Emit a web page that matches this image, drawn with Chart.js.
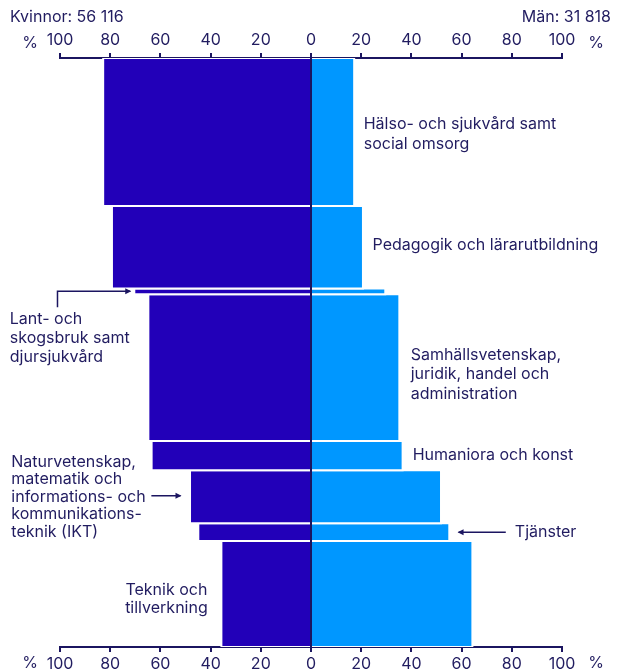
<!doctype html>
<html>

<head>
	<meta charset="utf-8">
	<title>Studenter per utbildningsområde</title>
	<script src="https://cdn.jsdelivr.net/npm/chart.js@4.4.1/dist/chart.umd.min.js"></script>
	<style>
		body {
			margin: 0;
			background: #fff;
			font-family: Inter, sans-serif;
		}

		#holder {
			width: 617px;
			height: 671px;
			position: relative;
		}
	</style>
</head>

<body>
	<div id="holder">
		<canvas id="chart-area"></canvas>
	</div>
	<script>
		// utbildningsområden, uppifrån och ned
		var fields = [
			'Hälso- och sjukvård samt social omsorg',
			'Pedagogik och lärarutbildning',
			'Lant- och skogsbruk samt djursjukvård',
			'Samhällsvetenskap, juridik, handel och administration',
			'Humaniora och konst',
			'Naturvetenskap, matematik och informations- och kommunikationsteknik (IKT)',
			'Tjänster',
			'Teknik och tillverkning'
		];
		// antal studenter per område (ger radens tjocklek)
		var students = [22100, 12300, 870, 21900, 4360, 7940, 2630, 15830];
		// andel kvinnor / män i procent
		var womenPct = [82.8, 79.3, 70.4, 64.8, 63.5, 48.2, 44.9, 35.7];
		var menPct = [17.2, 20.7, 29.6, 35.2, 36.5, 51.8, 55.1, 64.3];
		var tickValues = [-100, -80, -60, -40, -20, 0, 20, 40, 60, 80, 100];
		var totalWomen = '56 116';
		var totalMen = '31 818';

		var navy = '#1b1560';
		var textColor = '#211c60';
		var womenColor = '#2200b8';
		var menColor = '#0097ff';
		var font = { family: 'Inter', size: 16 };

		var total = students.reduce(function (a, b) { return a + b; }, 0);
		var starts = [];
		var acc = 0;
		students.forEach(function (n) {
			starts.push(acc);
			acc += n;
		});

		function rect(x0, x1, y0, y1, color) {
			return {
				data: [
					{ x: x0, y: y0 }, { x: x1, y: y0 }, { x: x1, y: y1 }, { x: x0, y: y1 }, { x: x0, y: y0 }
				],
				showLine: true,
				fill: 'shape',
				backgroundColor: color,
				borderColor: '#ffffff',
				borderWidth: 2,
				pointRadius: 0,
				tension: 0
			};
		}

		var datasets = [{
			// mittlinjen, ritas överst
			data: [{ x: 0, y: 0 }, { x: 0, y: total }],
			showLine: true,
			borderColor: navy,
			borderWidth: 2,
			pointRadius: 0
		}];
		fields.forEach(function (f, i) {
			var y0 = starts[i], y1 = starts[i] + students[i];
			datasets.push(rect(-womenPct[i], 0, y0, y1, womenColor));
			datasets.push(rect(0, menPct[i], y0, y1, menColor));
		});

		// textetiketter och pilar (x i procentenheter, dy i pixlar från radens mitt)
		var notes = [
			{ band: 0, x: 21, dy: 2, lh: 20, lines: ['Hälso- och sjukvård samt', 'social omsorg'] },
			{ band: 1, x: 24.5, dy: -2, lh: 19, lines: ['Pedagogik och lärarutbildning'] },
			{ band: 2, x: -120, dy: 47, lh: 19, lines: ['Lant- och', 'skogsbruk samt', 'djursjukvård'] },
			{ band: 3, x: 39.7, dy: 7, lh: 19.5, lines: ['Samhällsvetenskap,', 'juridik, handel och', 'administration'] },
			{ band: 4, x: 40.5, dy: 0, lh: 19, lines: ['Humaniora och konst'] },
			{ band: 5, x: -119.4, dy: 0, lh: 17.5, lines: ['Naturvetenskap,', 'matematik och', 'informations- och', 'kommunikations-', 'teknik (IKT)'] },
			{ band: 6, x: 81.2, dy: 0, lh: 19, lines: ['Tjänster'] },
			{ band: 7, x: -57.6, dy: 5, lh: 18, align: 'center', lines: ['Teknik och', 'tillverkning'] }
		];
		var arrows = [
			{ band: 2, pts: [[-101, 16], [-101, 0], [-72, 0]] },
			{ band: 5, pts: [[-63.6, -1], [-52, -1]] },
			{ band: 6, pts: [[77.6, 0], [58.8, 0]] }
		];

		var labelPlugin = {
			id: 'labels',
			afterDraw: function (chart) {
				var ctx = chart.ctx;
				var xs = chart.scales.x, ys = chart.scales.y;
				function bandMid(i) {
					return ys.getPixelForValue(starts[i] + students[i] / 2);
				}
				ctx.save();
				ctx.fillStyle = textColor;
				ctx.font = '16px Inter';
				ctx.textBaseline = 'middle';

				// totals och procenttecken
				ctx.textAlign = 'left';
				ctx.fillText('Kvinnor: ' + totalWomen, 10, 17);
				ctx.textAlign = 'right';
				ctx.fillText('Män: ' + totalMen, 611, 17);
				ctx.textAlign = 'center';
				[43, 663].forEach(function (y) {
					ctx.fillText('%', 30, y);
					ctx.fillText('%', 596, y);
				});

				notes.forEach(function (n) {
					var px = xs.getPixelForValue(n.x);
					var mid = bandMid(n.band) + n.dy;
					var top = mid - (n.lines.length - 1) * n.lh / 2;
					ctx.textAlign = n.align || 'left';
					n.lines.forEach(function (l, k) {
						ctx.fillText(l, px, top + k * n.lh);
					});
				});

				ctx.strokeStyle = navy;
				ctx.fillStyle = navy;
				ctx.lineWidth = 1.5;
				arrows.forEach(function (a) {
					var mid = bandMid(a.band);
					var p = a.pts.map(function (q) {
						return [xs.getPixelForValue(q[0]), mid + q[1]];
					});
					ctx.beginPath();
					ctx.moveTo(p[0][0], p[0][1]);
					for (var k = 1; k < p.length; k++) {
						ctx.lineTo(p[k][0], p[k][1]);
					}
					ctx.stroke();
					var end = p[p.length - 1], prev = p[p.length - 2];
					var dir = end[0] > prev[0] ? 1 : -1;
					ctx.beginPath();
					ctx.moveTo(end[0] + dir * 1, end[1]);
					ctx.lineTo(end[0] - dir * 5, end[1] - 3);
					ctx.lineTo(end[0] - dir * 5, end[1] + 3);
					ctx.closePath();
					ctx.fill();
				});
				ctx.restore();
			}
		};

		function xAxis(pos, h) {
			return {
				type: 'linear',
				position: pos,
				min: -100,
				max: 100,
				afterBuildTicks: function (scale) {
					scale.ticks = tickValues.map(function (v) { return { value: v }; });
				},
				afterFit: function (scale) {
					scale.height = h;
				},
				ticks: {
					color: textColor,
					font: font,
					padding: 3,
					maxRotation: 0,
					callback: function (v) { return Math.abs(v); }
				},
				grid: {
					display: true,
					drawOnChartArea: false,
					drawTicks: true,
					tickLength: 5,
					color: navy,
					lineWidth: 2
				},
				border: { display: true, color: navy, width: 2 }
			};
		}

		var config = {
			type: 'scatter',
			data: { datasets: datasets },
			options: {
				responsive: true,
				maintainAspectRatio: false,
				animation: false,
				layout: { padding: { top: 30, left: 60, right: 55, bottom: 0 } },
				plugins: {
					legend: { display: false },
					tooltip: { enabled: false }
				},
				scales: {
					x: xAxis('top', 28),
					x2: xAxis('bottom', 24),
					y: {
						type: 'linear',
						min: 0,
						max: total,
						reverse: true,
						display: false
					}
				}
			},
			plugins: [labelPlugin]
		};

		window.onload = function () {
			var ctx = document.getElementById('chart-area').getContext('2d');
			window.myChart = new Chart(ctx, config);
		};
	</script>
</body>

</html>
